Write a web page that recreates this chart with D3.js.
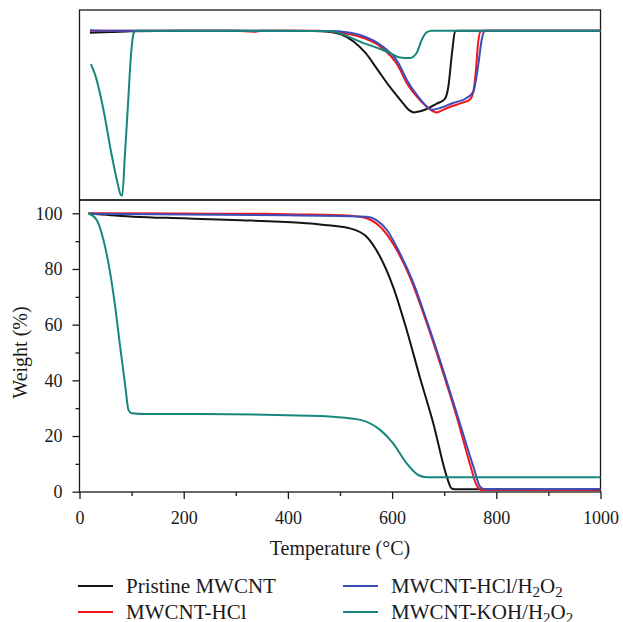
<!DOCTYPE html>
<html>
<head>
    <title>TGA / DTG of MWCNT samples</title>
    <script src="https://d3js.org/d3.v7.min.js"></script>
    <style>
        body {
            margin: 0;
            background: #fff;
        }

        svg text {
            font-family: "Liberation Serif", "DejaVu Serif", serif;
        }

        .frame {
            fill: none;
            stroke: #1a1a1a;
            stroke-width: 1.3;
        }

        .axis path {
            display: none;
        }

        .axis line {
            stroke: #1a1a1a;
            stroke-width: 1.3;
        }

        .curve {
            fill: none;
            stroke-width: 2;
            stroke-linejoin: round;
        }
    </style>
</head>
<body>
    <div id="chart"></div>

    <script>
        // series names and colours
        const names = ["Pristine MWCNT", "MWCNT-HCl", "MWCNT-HCl/H2O2", "MWCNT-KOH/H2O2"];
        const colors = ["#141414", "#f2161b", "#3c4cb8", "#17877e"];

        // TGA weight loss curves: [temperature °C, weight %]
        const pristineTGA = [[17, 100], [60, 99.3], [104, 98.8], [200, 98.2], [295, 97.6], [423, 96.6], [462, 96], [487, 95.5],
            [519, 94.6], [551, 91.6], [577, 84.4], [602, 73.6], [628, 58.1], [653, 41.3], [679, 24.6], [705, 5.4],
            [714, 1.2], [720, 0.9], [807, 0.9], [1000, 0.6]];
        const hclTGA = [[20, 100], [200, 99.9], [350, 99.8], [423, 99.6], [519, 99.1], [551, 98.2], [583, 94], [609, 86.8],
            [634, 77.2], [660, 64.1], [692, 46.1], [724, 26.9], [749, 10.2], [762, 2.4], [772, 0.6], [800, 0.6], [1000, 0.7]];
        const hclPerTGA = [[20, 99.8], [200, 99.6], [400, 99.3], [500, 99], [551, 98.8], [590, 94], [615, 85.6], [641, 74.9],
            [666, 61.7], [698, 43.7], [730, 24.6], [756, 9], [769, 1.8], [778, 0.9], [1000, 1]];
        const kohPerTGA = [[17, 100], [33, 97.6], [46, 90.4], [59, 78.4], [68.5, 66.4], [78, 52.1], [88, 37.7], [94, 29.3],
            [100, 28.2], [130, 27.9], [231, 27.9], [462, 27.2], [487, 26.9], [539, 25.8], [577, 22.2], [602, 17.4],
            [628, 10.2], [650, 6], [666, 5.2], [1000, 5.2]];

        // DTG curves (arbitrary units, 0 = baseline): [temperature °C, value]
        const pristineDTG = [[20, -1.2], [60, -0.8], [100, -0.3], [200, 0], [400, 0], [450, -0.2], [473, -0.5], [503, -2.4],
            [526, -6.5], [549, -13.5], [572, -23.6], [595, -33.8], [618, -42.8], [632, -48], [642, -49.5], [652, -49],
            [663, -47.9], [686, -44.2], [701, -41.5], [708, -33.8], [715, -13.5], [721, -0.4], [726, 0], [1000, 0]];
        const hclDTG = [[20, 0], [300, 0], [335, -0.6], [350, 0], [460, 0], [481, -0.4], [513, -1.8], [545, -4.4],
            [577, -9.5], [612, -21.6], [628, -31.7], [647, -39.8], [666, -45.9], [686, -49.5], [701, -47.5], [717, -45.5],
            [737, -43.4], [749, -41.8], [756, -36.8], [761, -23.6], [765, -7.5], [770, -0.4], [775, 0], [1000, 0]];
        const hclPerDTG = [[20, 0.3], [50, 0], [480, -0.2], [513, -1], [545, -3.4], [577, -8.5], [612, -19.6], [628, -29.7],
            [647, -38.8], [663, -44.8], [676, -47.9], [692, -46.9], [717, -43.8], [743, -40.8], [756, -36.8], [765, -21.6],
            [772, -5.5], [777, -0.4], [782, 0], [1000, 0]];
        const kohPerDTG = [[22, -20.2], [31, -27.7], [46, -47.9], [61, -74.1], [73, -92.3], [79, -99.4], [82, -100],
            [87, -76], [93, -45], [99, -14], [104, -1.4], [108, 0], [400, 0], [481, -0.4], [545, -7.5], [577, -11.1],
            [596, -13.5], [615, -16.2], [634, -16.6], [647, -13.5], [657, -5.5], [666, -1], [676, 0], [1000, 0]];

        const tgaSeries = [pristineTGA, hclTGA, hclPerTGA, kohPerTGA];
        const dtgSeries = [pristineDTG, hclDTG, hclPerDTG, kohPerDTG];

        const xTicks = [0, 200, 400, 600, 800, 1000];
        const yTicks = [0, 20, 40, 60, 80, 100];

        const width = 623, height = 622;
        const left = 79.5, right = 600.5;
        const topPanel = {top: 10, bottom: 200};
        const tgaBottom = 492;
        const serif = "Liberation Serif";

        const svg = d3.select("#chart")
            .append("svg")
            .attr("width", width)
            .attr("height", height);

        // scales
        const x = d3.scaleLinear().domain([0, 1000]).range([left, right]);
        const y = d3.scaleLinear().domain([0, 100]).range([491.7, 213.3]);
        const yDtg = d3.scaleLinear().domain([-100, 0]).range([195.7, 30.7]);

        // top (DTG) panel
        svg.append("rect")
            .attr("class", "frame")
            .attr("x", left).attr("y", topPanel.top)
            .attr("width", right - left).attr("height", topPanel.bottom - topPanel.top);

        const dtgLine = d3.line()
            .x(d => x(d[0]))
            .y(d => yDtg(d[1]))
            .curve(d3.curveMonotoneX);

        svg.append("g")
            .selectAll("path")
            .data(dtgSeries)
            .enter()
            .append("path")
            .attr("class", "curve")
            .attr("stroke", (d, i) => colors[i])
            .attr("d", dtgLine);

        // bottom (TGA) panel
        svg.append("rect")
            .attr("class", "frame")
            .attr("x", left).attr("y", topPanel.bottom)
            .attr("width", right - left).attr("height", tgaBottom - topPanel.bottom);

        const tgaLine = d3.line()
            .x(d => x(d[0]))
            .y(d => y(d[1]))
            .curve(d3.curveMonotoneX);

        svg.append("g")
            .selectAll("path")
            .data(tgaSeries)
            .enter()
            .append("path")
            .attr("class", "curve")
            .attr("stroke", (d, i) => colors[i])
            .attr("d", tgaLine);

        // axes: minor ticks first, then labelled ticks
        svg.append("g")
            .attr("class", "axis")
            .attr("transform", `translate(0,${tgaBottom})`)
            .call(d3.axisBottom(x).tickValues(d3.range(100, 1000, 200)).tickSize(4).tickFormat(""));

        svg.append("g")
            .attr("class", "axis")
            .attr("transform", `translate(0,${tgaBottom})`)
            .call(d3.axisBottom(x).tickValues(xTicks).tickSize(7).tickPadding(12).tickFormat(d3.format("d")))
            .attr("font-family", serif)
            .attr("font-size", 18)
            .selectAll("text").attr("fill", "#1a1a1a");

        svg.append("g")
            .attr("class", "axis")
            .attr("transform", `translate(${left},0)`)
            .call(d3.axisLeft(y).tickValues(d3.range(10, 100, 20)).tickSize(4).tickFormat(""));

        svg.append("g")
            .attr("class", "axis")
            .attr("transform", `translate(${left},0)`)
            .call(d3.axisLeft(y).tickValues(yTicks).tickSize(7).tickPadding(10).tickFormat(d3.format("d")))
            .attr("font-family", serif)
            .attr("font-size", 18)
            .selectAll("text").attr("fill", "#1a1a1a");

        // axis titles
        svg.append("text")
            .attr("x", (left + right) / 2)
            .attr("y", 555)
            .attr("text-anchor", "middle")
            .attr("font-family", serif)
            .attr("font-size", 20)
            .attr("fill", "#1a1a1a")
            .text("Temperature (\u00B0C)");

        svg.append("text")
            .attr("transform", `translate(27,${(213 + 492) / 2}) rotate(-90)`)
            .attr("text-anchor", "middle")
            .attr("font-family", serif)
            .attr("font-size", 20)
            .attr("fill", "#1a1a1a")
            .text("Weight (%)");

        // legend
        const legendPos = [[78, 586], [78, 612], [343, 586], [343, 612]];
        const legend = svg.append("g")
            .attr("font-family", serif)
            .attr("font-size", 21)
            .attr("fill", "#1a1a1a");

        names.forEach((name, i) => {
            const [lx, ly] = legendPos[i];
            legend.append("line")
                .attr("x1", lx).attr("x2", lx + 35)
                .attr("y1", ly).attr("y2", ly)
                .attr("stroke", colors[i])
                .attr("stroke-width", 1.8);

            const t = legend.append("text")
                .attr("x", lx + 48)
                .attr("y", ly + 7);

            // chemical formula with subscripts
            const parts = name.split(/(\d)/);
            parts.forEach((p, j) => {
                if (!p) return;
                const isSub = /\d/.test(p);
                const prevSub = j > 0 && /\d/.test(parts[j - 1] || "");
                t.append("tspan")
                    .attr("dy", isSub ? 4 : (prevSub ? -4 : 0))
                    .attr("font-size", isSub ? 15 : null)
                    .text(p);
            });
        });
    </script>
</body>
</html>
